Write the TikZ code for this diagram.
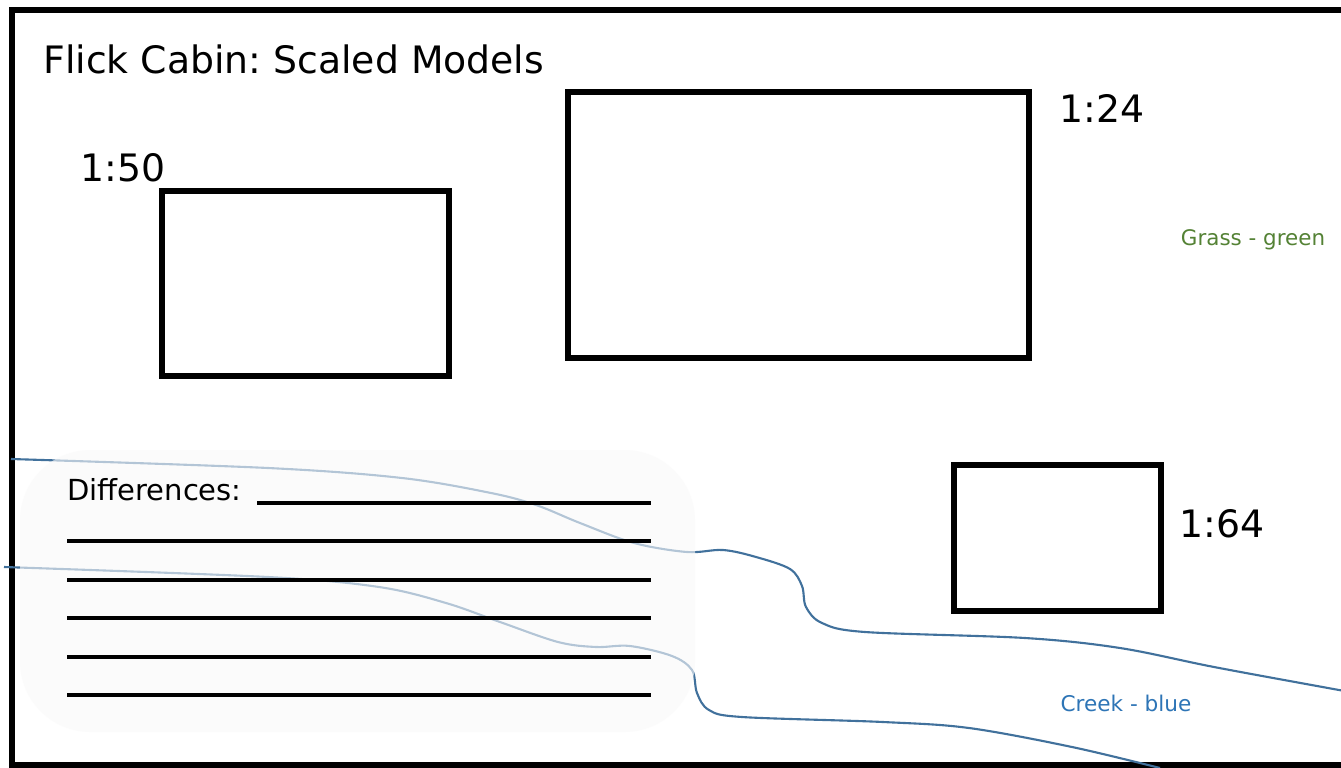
\documentclass[tikz,border=0pt]{standalone}
\usepackage{fontspec}
\setmainfont{DejaVu Sans}
\usepackage{tikz}
\usetikzlibrary{positioning}
\definecolor{creekblue}{RGB}{65,113,156}
\definecolor{creektext}{RGB}{46,117,182}
\definecolor{grassgreen}{RGB}{84,130,53}
\frenchspacing

\begin{document}
\begin{tikzpicture}[
    x=0.02cm, y=-0.02cm,
    model/.style={draw=black,line width=2.9pt},
    ratio/.style={font=\fontsize{21.5}{24}\selectfont,inner sep=0pt,anchor=base west},
    creek/.style={draw=creekblue,line width=1.2pt},
    writeline/.style={draw=black,line width=2.1pt},
    notearea/.style={fill=gray!4,fill opacity=0.62,rounded corners=40}
]
    \useasboundingbox (0,0) rectangle (1341,767);
    \clip (0,0) rectangle (1341,767);
    \fill[white] (0,0) rectangle (1341,767);

    % outer frame
    \draw[line width=3.4pt] (12,10) rectangle (1360,765);

    \node[ratio,font=\fontsize{21.5}{24}\selectfont] (title) at (43,73) {Flick Cabin: Scaled Models};

    % the three models
    \draw[model] (162,191) rectangle (449,376);
    \draw[model] (568,92) rectangle (1029,358);
    \draw[model] (954,465) rectangle (1161,611);
    \node[ratio] (r50) at (80,181) {1:50};
    \node[ratio] (r24) at (1059,122) {1:24};
    \node[ratio] (r64) at (1179,537) {1:64};

    \node[text=grassgreen,font=\fontsize{12.2}{14}\selectfont] (grass) at (1253,240) {Grass - green};
    \node[text=creektext,font=\fontsize{12.3}{14}\selectfont] (creektxt) at (1126,703) {Creek - blue};

    % creek banks
    \draw[creek] plot[smooth,tension=0.55] coordinates {(11,459) (268,468) (402,478) (491,493) (536,505) (580,523) (634,543) (687,552) (723,550) (756,557) (790,569) (802,586) (806,607) (822,623) (865,632) (1025,638) (1120,648) (1214,667) (1328,688) (1345,691)};
    \draw[creek] plot[smooth,tension=0.55] coordinates {(4,567) (268,577) (379,587) (446,603) (500,622) (558,642) (596,647) (630,646) (672,656) (692,670) (697,693) (709,710) (742,717) (883,722) (969,728) (1072,747) (1160,768)};

    % notes area
    \fill[notearea] (20,450) rectangle (695,732);
    \node[ratio,font=\fontsize{16.5}{19}\selectfont] (diff) at (67,500) {Differences:};
    \coordinate (l0a) at (257,503); \coordinate (l0b) at (651,503);
    \draw[writeline] (l0a) -- (l0b);
    \foreach \y in {541,580,618,657,695}
        \draw[writeline] (67,\y) -- (651,\y);
\end{tikzpicture}
\end{document}
